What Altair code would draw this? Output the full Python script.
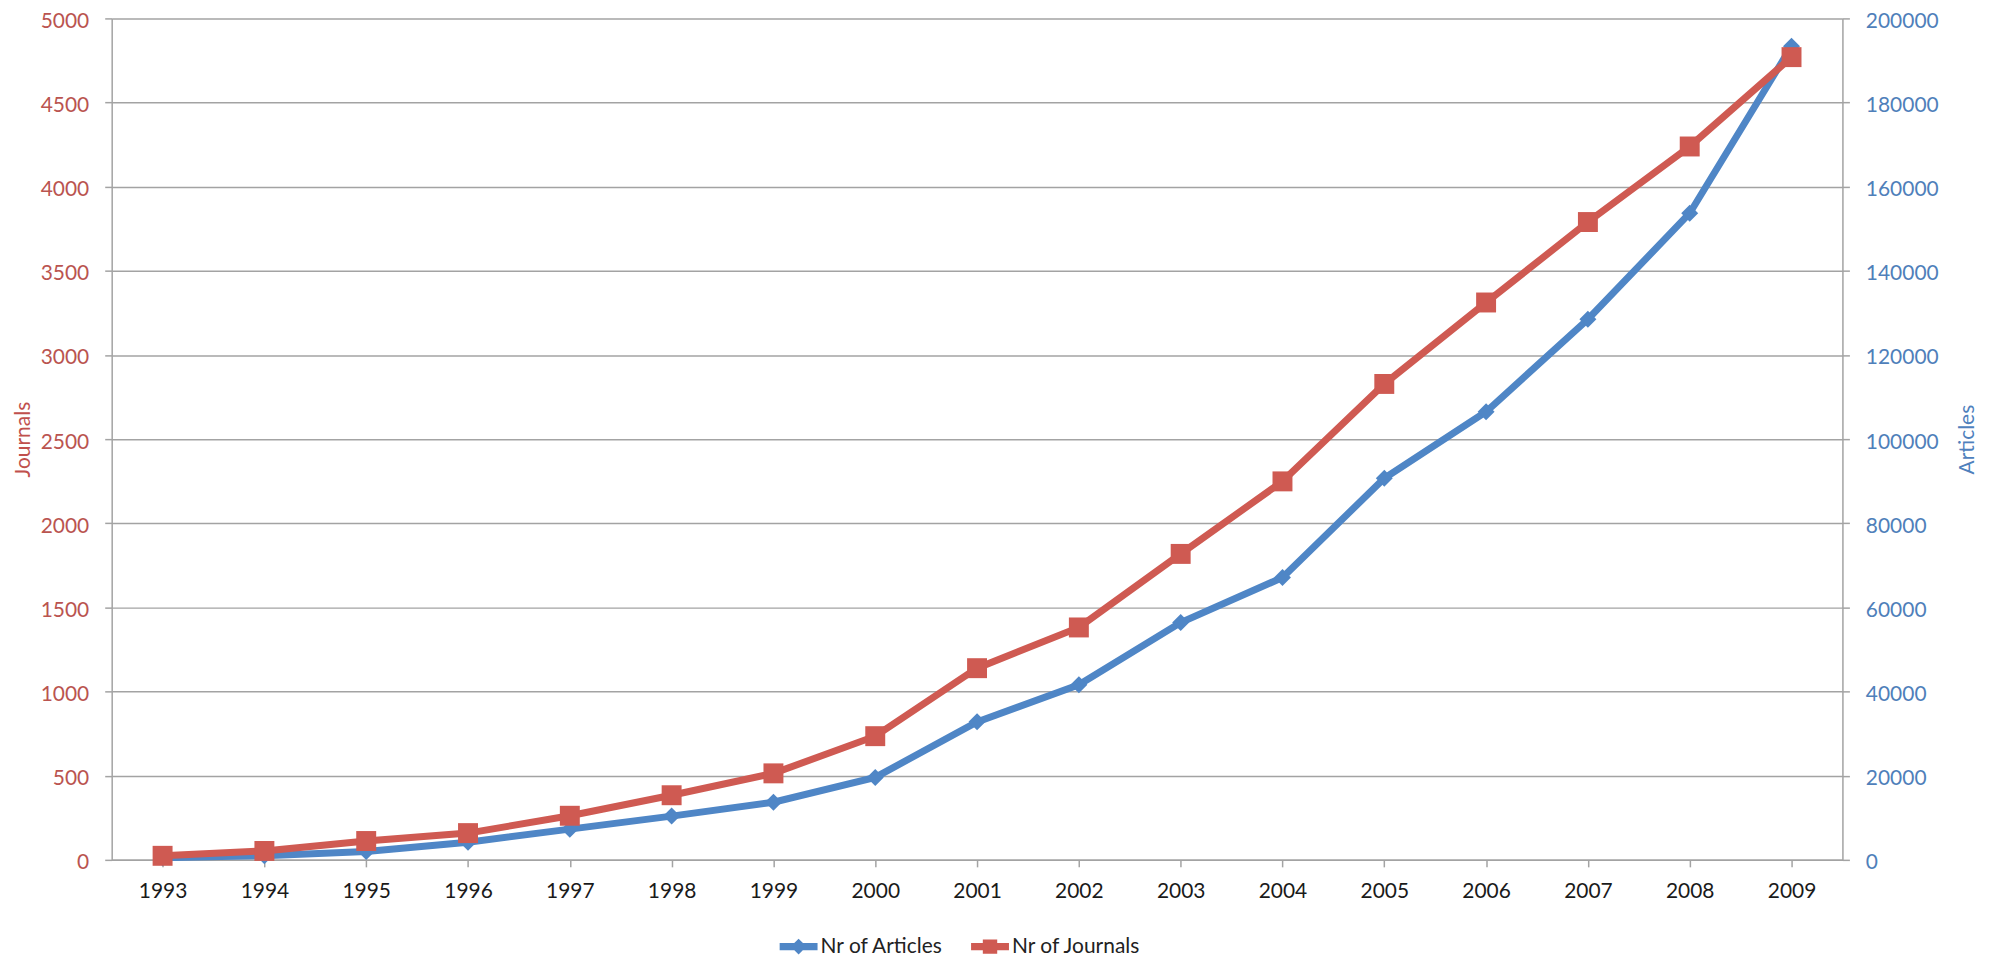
import altair as alt
import pandas as pd

years = ["1993", "1994", "1995", "1996", "1997", "1998", "1999", "2000", "2001",
         "2002", "2003", "2004", "2005", "2006", "2007", "2008", "2009"]
journals = [24, 53, 112, 159, 262, 384, 514, 735, 1139, 1381, 1818, 2249, 2828, 3312, 3790, 4239, 4770]
articles = [500, 1000, 2000, 4200, 7300, 10400, 13700, 19600, 32800, 41600, 56400, 67100,
            90700, 106500, 128500, 153700, 193400]
series_names = ["Nr of Articles", "Nr of Journals"]
journal_ticks = [0, 500, 1000, 1500, 2000, 2500, 3000, 3500, 4000, 4500, 5000]
article_ticks = [0, 20000, 40000, 60000, 80000, 100000, 120000, 140000, 160000, 180000, 200000]

BLUE = "#4F86C6"
RED = "#CF5A52"
GRID = "#A3A3A3"
FONT = "Lato"
PLOT_H = 844

df = pd.DataFrame({"year": years, "journals": journals, "articles": articles})

# legend symbols: a thick line segment with the marker in the middle
legend_symbols = [
    "M-1,-0.19L1,-0.19L1,0.19L-1,0.19Z M0,-0.42L0.42,0L0,0.42L-0.42,0Z",
    "M-1,-0.19L1,-0.19L1,0.19L-1,0.19Z M-0.38,-0.38L0.38,-0.38L0.38,0.38L-0.38,0.38Z",
]

legend = alt.Legend(
    title=None, orient="none", direction="horizontal",
    legendX=670, legendY=912, padding=0,
    symbolSize=1444, symbolStrokeWidth=0, symbolOpacity=1,
    labelFontSize=21, labelFont=FONT, labelColor="#222222",
    labelOffset=3, columnPadding=27,
)

color = alt.Color("series:N", scale=alt.Scale(domain=series_names, range=[BLUE, RED]), legend=legend)
legend_shape = alt.Shape("series:N", scale=alt.Scale(domain=series_names, range=legend_symbols), legend=legend)

x = alt.X("year:O", scale=alt.Scale(type="point", padding=0.5),
          axis=alt.Axis(title=None, labelAngle=0, labelFont=FONT, labelFontSize=21,
                        labelColor="#1a1a1a", labelPadding=14, tickSize=7, tickColor=GRID,
                        tickWidth=1.5, domainColor=GRID, domainWidth=1.5, grid=False))

y_art = alt.Y("articles:Q", scale=alt.Scale(domain=[0, 200000], nice=False),
              axis=alt.Axis(orient="right", values=article_ticks, format="d", grid=False, title="Articles",
                            titleAngle=270, titleFont=FONT, titleFontSize=21, titleFontWeight="normal",
                            titleColor="#4F81BD", titleX=125, titleY=PLOT_H / 2,
                            titleAlign="center", titleBaseline="middle",
                            labelFont=FONT, labelFontSize=21, labelColor="#4F7FBA", labelPadding=16,
                            labelOffset=3,
                            tickSize=7, tickColor=GRID, tickWidth=1.5, domainColor=GRID, domainWidth=1.5))

y_jou = alt.Y("journals:Q", scale=alt.Scale(domain=[0, 5000], nice=False),
              axis=alt.Axis(orient="left", values=journal_ticks, format="d", grid=True,
                            gridColor=GRID, gridWidth=1.5,
                            title="Journals", titleFont=FONT, titleFontSize=21, titleFontWeight="normal",
                            titleColor="#C0504D", titleAngle=270, titleX=-88, titleY=PLOT_H / 2,
                            titleAlign="center", titleBaseline="middle",
                            labelFont=FONT, labelFontSize=21, labelColor="#BA5450", labelPadding=16,
                            labelOffset=3,
                            tickSize=7, tickColor=GRID, tickWidth=1.5, domainColor=GRID, domainWidth=1.5))

base = alt.Chart(df)

art_base = base.transform_calculate(series="'Nr of Articles'")
jou_base = base.transform_calculate(series="'Nr of Journals'")

articles_layer = alt.layer(
    art_base.mark_line(strokeWidth=7).encode(x=x, y=y_art, color=color),
    art_base.mark_point(filled=True, size=290, opacity=1).encode(
        x=x, y=y_art, color=color, shape=alt.value("diamond")),
)
journals_layer = alt.layer(
    jou_base.mark_line(strokeWidth=7).encode(x=x, y=y_jou, color=color),
    jou_base.mark_point(filled=True, size=400, opacity=1).encode(
        x=x, y=y_jou, color=color, shape=alt.value("square")),
    # legend-only layer (no rows drawn): supplies the line+marker legend symbols
    jou_base.transform_filter("false").mark_point(filled=True, opacity=1).encode(
        x=x, y=y_jou, color=color, shape=legend_shape),
)

chart = alt.layer(articles_layer, journals_layer).resolve_scale(y="independent").properties(
    width=1736, height=PLOT_H,
    autosize=alt.AutoSizeParams(type="none"),
    padding={"left": 104, "top": 9, "right": 140, "bottom": 100},
    background="white",
).configure_view(stroke=None)

chart.save("out.html", embed_options={"renderer": "svg", "actions": False})
